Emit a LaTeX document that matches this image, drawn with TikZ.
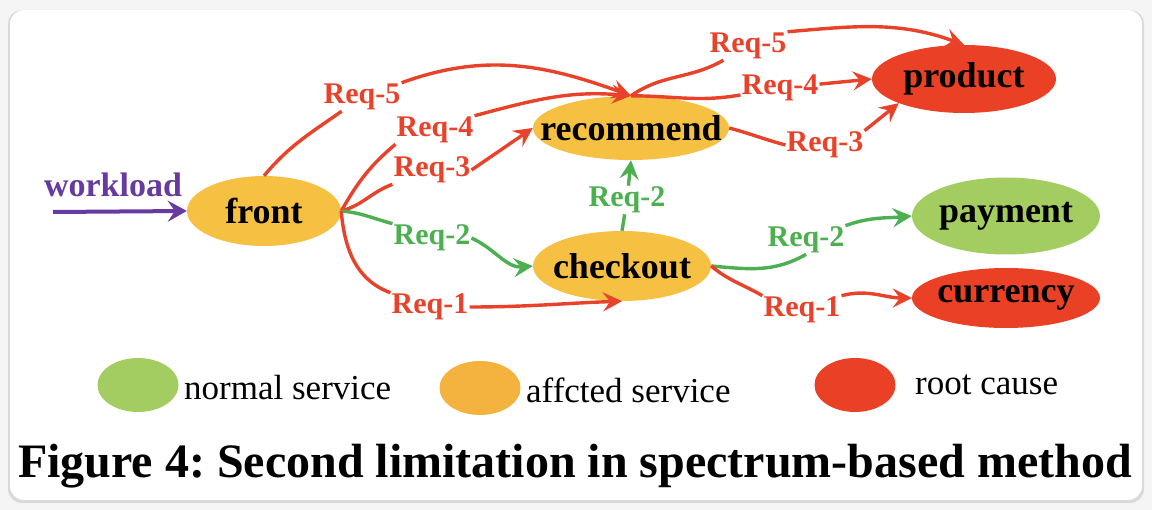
\documentclass[tikz,border=0pt]{standalone}
\usepackage{fontspec}
\setmainfont{Liberation Serif}
\usetikzlibrary{shapes.geometric,arrows.meta}
\definecolor{svorange}{RGB}{246,192,66}
\definecolor{svred}{RGB}{234,64,38}
\definecolor{svgreen}{RGB}{163,205,96}
\definecolor{lgorange}{RGB}{244,178,62}
\definecolor{reqred}{RGB}{232,67,42}
\definecolor{reqgreen}{RGB}{76,175,80}
\definecolor{wlpurple}{RGB}{103,58,160}
\newcommand{\svname}[1]{\makebox[0pt][c]{#1}}

\begin{document}
\frenchspacing
\begin{tikzpicture}[x=1pt,y=1pt]
	\tikzstyle{svnode}=[shape=ellipse, inner sep=0pt, font=\fontsize{36}{36}\selectfont\bfseries];
	\tikzstyle{lgnode}=[shape=ellipse, inner sep=0pt, minimum width=81pt, minimum height=54pt];
	\tikzstyle{lgtext}=[anchor=west, inner sep=0pt, font=\fontsize{35}{35}\selectfont];
	\tikzstyle{rlabel}=[inner sep=1pt, text=reqred, font=\fontsize{30}{30}\selectfont\bfseries];
	\tikzstyle{glabel}=[inner sep=1pt, text=reqgreen, font=\fontsize{30}{30}\selectfont\bfseries];
	\tikzstyle{rline}=[draw=reqred, line width=3.4pt];
	\tikzstyle{gline}=[draw=reqgreen, line width=3.4pt];
	\tikzstyle{arrowend}=[-{Stealth[length=19pt,width=19pt,inset=7pt]}];

	% card
	\useasboundingbox (0,0) rectangle (1152,-510);
	\fill[gray!8] (0,0) rectangle (1152,-510);
	\fill[gray!30, rounded corners=14pt] (8,-10) rectangle (1144,-503);
	\fill[white, rounded corners=14pt] (10,-10) rectangle (1142,-500);

	\node[svnode, fill=svorange, minimum width=154pt, minimum height=70pt] (front) at (264,-211) {\svname{front}};
	\node[svnode, fill=svorange, minimum width=196pt, minimum height=64pt] (recommend) at (631,-128) {\svname{recommend}};
	\node[svnode, fill=svorange, minimum width=178pt, minimum height=70pt] (checkout) at (622,-266) {\svname{checkout}};
	\node[svnode, fill=svred, minimum width=184pt, minimum height=68pt] (product) at (964,-79) {\svname{product}};
	\node[svnode, fill=svgreen, minimum width=188pt, minimum height=77pt] (payment) at (1006,-216) {\svname{payment}};
	\node[svnode, fill=svred, minimum width=188pt, minimum height=60pt] (currency) at (1006,-298) {\svname{currency}};

	\node[font=\fontsize{34}{34}\selectfont\bfseries, text=wlpurple] (wltext) at (113,-185) {workload};
	\coordinate (wl) at (53,-212);

	\node[rlabel] (r5a) at (362,-97) {Req-5};
	\node[rlabel] (r4a) at (435,-130) {Req-4};
	\node[rlabel] (r3a) at (432,-170) {Req-3};
	\node[glabel] (r2a) at (432,-238) {Req-2};
	\node[rlabel] (r1a) at (430,-307) {Req-1};
	\node[rlabel] (r5b) at (748,-46) {Req-5};
	\node[rlabel] (r4b) at (780,-88) {Req-4};
	\node[rlabel] (r3b) at (825,-145) {Req-3};
	\node[glabel] (r2c) at (627,-200) {Req-2};
	\node[glabel] (r2b) at (806,-240) {Req-2};
	\node[rlabel] (r1b) at (802,-310) {Req-1};

	\draw[wlpurple, line width=4pt, -{Stealth[length=19pt,width=21pt,inset=7pt]}] (wl) -- (front.west);

	% Req-5
	\draw[rline] (front.north) to[out=50,in=215] (r5a);
	\draw[rline, arrowend] (r5a.north east) to[out=20,in=160] (recommend.north);
	\draw[rline] (recommend.north) to[out=35,in=210] (r5b);
	\draw[rline, arrowend] (r5b.north east) to[out=5,in=160] (product.north);

	% Req-4
	\draw[rline] (front.east) to[out=60,in=220] (r4a.south west);
	\draw[rline, arrowend] (r4a.north east) to[out=15,in=175] (recommend.north);
	\draw[rline] (recommend.north) to[out=0,in=190] (r4b);
	\draw[rline, arrowend] (r4b) -- (product.west);

	% Req-3
	\draw[rline] (front.east) to[out=15,in=200] (r3a.south west);
	\draw[rline, arrowend] (r3a.east) -- (recommend.west);
	\draw[rline] (recommend.east) to[out=-15,in=165] (r3b.west);
	\draw[rline, arrowend] (r3b.north east) -- (product.south west);

	% Req-2
	\draw[gline] (front.east) to[out=-5,in=165] (r2a.north west);
	\draw[gline, arrowend] (r2a.east) to[out=-25,in=185] (checkout.west);
	\draw[gline] (checkout.north) -- (r2c);
	\draw[gline, arrowend] (r2c) -- (recommend.south);
	\draw[gline] (checkout.east) to[out=-5,in=210] (r2b.south);
	\draw[gline, arrowend] (r2b.north east) to[out=20,in=185] (payment.west);

	% Req-1
	\draw[rline] (front.east) to[out=-85,in=160] (r1a.north west);
	\draw[rline, arrowend] (r1a.east) to[out=0,in=182] (checkout.south);
	\draw[rline] (checkout.east) to[out=-40,in=150] (r1b.north west);
	\draw[rline, arrowend] (r1b.north east) to[out=15,in=180] (currency.west);

	% legend
	\node[lgnode, fill=svgreen] (lgnormal) at (138,-385) {};
	\node[lgtext] (txnormal) at (184,-388) {normal service};
	\node[lgnode, fill=lgorange] (lgaffected) at (480,-388) {};
	\node[lgtext] (txaffected) at (526,-390) {affcted service};
	\node[lgnode, fill=svred] (lgroot) at (855,-385) {};
	\node[lgtext] (txroot) at (915,-385) {root cause};

	\node[font=\fontsize{48}{48}\selectfont\bfseries] (caption) at (575,-466) {Figure 4: Second limitation in spectrum-based method};
\end{tikzpicture}
\end{document}
